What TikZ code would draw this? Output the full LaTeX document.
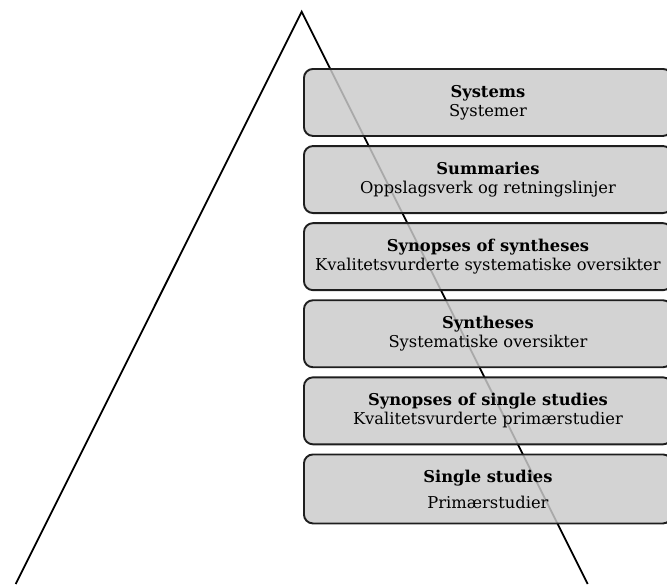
\documentclass[tikz,border=0pt]{standalone}
\usepackage{fontspec}
\setmainfont{DejaVu Serif}
\usetikzlibrary{positioning}
\definecolor{levelgray}{RGB}{202,202,202}
\definecolor{edgegray}{RGB}{30,30,30}
\tikzset{
  level/.style={
    rectangle,
    rounded corners=9pt,
    draw=edgegray,
    line width=1.9pt,
    fill=levelgray,
    fill opacity=0.84,
    text opacity=1,
    align=center,
    minimum width=368pt,
    minimum height=67pt,
    font=\fontsize{16.3}{19}\selectfont
  },
  pyramid/.style={line width=1.8pt, draw=black}
}

\begin{document}
\begin{tikzpicture}[x=1pt,y=-1pt,node distance=8.2pt]
  \useasboundingbox (0,0) rectangle (667,584);
  \clip (0,0) rectangle (667,584);
  % pyramid outline
  \coordinate (apex) at (301.7,11.7);
  \coordinate (baseL) at (15.7,584);
  \coordinate (baseR) at (587.7,584);
  \draw[pyramid] (baseL) -- (apex) -- (baseR);

  % evidence levels
  \node[level, anchor=north west] (systems) at (303,68) {\textbf{Systems}\\Systemer};
  \node[level, below=of systems] (summaries) {\textbf{Summaries}\\Oppslagsverk og retningslinjer};
  \node[level, below=of summaries] (synsyn) {\textbf{Synopses of syntheses}\\Kvalitetsvurderte systematiske oversikter};
  \node[level, below=of synsyn] (syntheses) {\textbf{Syntheses}\\Systematiske oversikter};
  \node[level, below=of syntheses] (synsingle) {\textbf{Synopses of single studies}\\Kvalitetsvurderte primærstudier};
  \node[level, below=of synsingle, minimum height=69pt] (single) {\textbf{Single studies}\\[7pt]Primærstudier};
\end{tikzpicture}
\end{document}
